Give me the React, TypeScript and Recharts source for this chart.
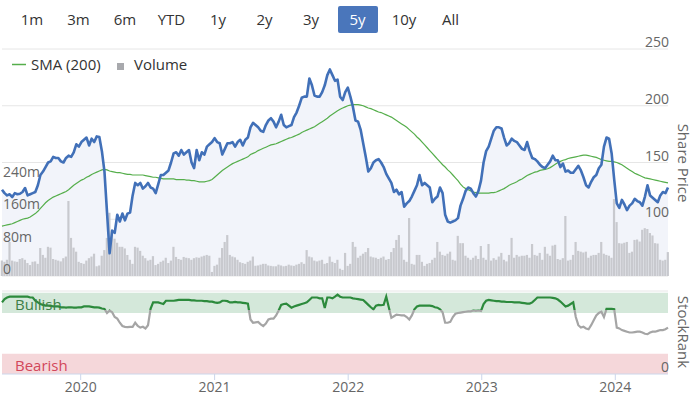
import React from 'react';
import {
  ComposedChart,
  LineChart,
  Line,
  Area,
  Bar,
  XAxis,
  YAxis,
  CartesianGrid,
  ReferenceArea,
  ReferenceLine,
} from 'recharts';

const START = Date.UTC(2019, 4, 31);
const WEEK = 7 * 24 * 3600 * 1000;

const rangeButtons = ['1m', '3m', '6m', 'YTD', '1y', '2y', '3y', '5y', '10y', 'All'];
const activeRange = '5y';
const priceTicks = [50, 100, 150, 200, 250];
const volumeTicks = [0, 80, 160, 240];
const rankTicks = [0];
const yearTicks = [2020, 2021, 2022, 2023, 2024];

const priceValues = [
  126, 123, 121, 122, 119.6, 123, 122, 122.5, 124, 127.5,
  121, 122, 123, 124, 130, 139, 142, 146, 150, 151,
  155, 154, 154, 151, 150, 154, 156, 155, 159, 166,
  164, 168, 170, 172, 165, 171, 168, 173, 172.5, 160,
  142, 106, 70, 90, 88, 104, 98, 105, 99, 105,
  106, 121, 132, 130, 132, 127, 129, 132, 128, 127,
  123, 131, 139, 139, 141, 143, 150, 158, 159, 156,
  161, 157, 159, 161, 150, 145, 161, 152, 159, 157,
  164, 166, 168, 171.5, 168, 167, 157, 162, 167, 167,
  168, 164, 168, 170, 165, 170, 172, 181, 185, 183,
  181, 178, 177, 183, 187, 189, 186, 181, 186, 192,
  183, 181, 182, 183, 190, 194, 200, 207, 208, 208,
  224, 218, 209, 208, 208, 212, 218, 227, 232, 227,
  222, 223, 208, 205, 212, 216, 208, 199, 187, 186,
  179, 167, 155, 142, 145, 150, 152, 153, 150, 146,
  140, 136, 132, 124, 126, 122, 124, 111, 114, 116,
  120, 125, 130, 139, 130, 132, 130, 128, 115, 118,
  120, 128, 123, 104, 98, 97, 98, 99, 101, 112,
  118, 125, 128, 127, 123, 120, 125, 134, 150, 160,
  164, 171, 178, 181, 181, 180, 172, 165, 167, 171,
  169, 168, 165, 162, 161, 168, 160, 154, 153, 151,
  148, 146, 145, 148, 151, 156, 152, 152, 146, 149,
  142, 143, 141, 141, 144, 147, 143, 137, 130, 128,
  133, 137, 139, 145, 148, 164, 172, 171, 158, 135,
  114, 110, 117, 113, 108, 112, 114, 118, 116, 115,
  112, 120, 130, 121, 119, 117, 115, 121, 124, 123, 128,
];

const smaValues = [
  94, 94.5, 95, 95.5, 96, 97, 98, 99, 100, 100.5,
  101, 102, 103.5, 105, 107, 109.5, 112, 114.5, 116.5, 118,
  119.5, 120.5, 121.5, 122.5, 123.5, 124.5, 126, 128, 130, 131.5,
  133, 134.5, 135.5, 137, 138, 139.5, 140.5, 141.5, 142.5, 143.5,
  144, 143.5, 142.5, 142, 141.5, 141, 141, 140.5, 140, 139.5,
  139.5, 139, 139, 139, 139, 139, 138.5, 138, 137.5, 137,
  137, 136.5, 136, 135.5, 135.5, 135.5, 135.5, 135.5, 135, 135,
  135, 135, 134.5, 134.5, 134, 134, 133.5, 133, 133, 133,
  133.5, 134, 135, 137, 139, 141, 143, 144.5, 146, 147.5,
  149, 150, 151, 152, 153, 154, 155, 157, 158, 159,
  160.5, 161.5, 162.5, 163.5, 164.5, 165.5, 166, 166.5, 167.5, 168.5,
  169.5, 170.5, 171.5, 172, 173, 174, 175, 176.5, 177.5, 178.5,
  179.5, 180.5, 181.5, 183, 184.5, 186, 187.5, 189, 191, 192.5,
  194, 195.5, 197, 198, 199, 200, 200.5, 201, 201, 201,
  200.5, 200, 199, 198, 197.5, 196.5, 195.5, 194.5, 194, 193,
  192, 191, 190, 188.5, 187, 185.5, 184, 182.5, 181, 179,
  177, 175, 172.5, 170.5, 168, 165.5, 163, 160.5, 158, 155.5,
  153, 150.5, 148, 146, 143.5, 141.5, 139, 136.5, 134, 131,
  128.5, 127, 126, 125, 124, 123.5, 123, 123, 123, 123,
  123, 123.5, 123.5, 124, 125, 126, 127, 128.5, 130, 131,
  132, 133, 134.5, 135.5, 137, 138.5, 139.5, 140.5, 141.5, 142,
  143, 143.5, 144, 144.5, 145.5, 147, 148.5, 150, 151, 152,
  152.5, 153.5, 154, 154.5, 155, 155.5, 156, 156.5, 156.5, 156,
  155.5, 155, 154.5, 153.5, 152.5, 152, 151.5, 151, 151, 150.5,
  150, 149, 148, 146.5, 145, 143.5, 142, 140.5, 139.5, 138.5,
  137.5, 136.5, 136, 135.5, 135, 134.5, 134, 133.5, 133, 132.5, 132,
];

// millions of shares
const volumeValues = [
  38, 35, 40, 84, 38, 36, 35, 42, 44, 40,
  32, 27, 35, 36, 30, 69, 52, 45, 72, 70,
  42, 40, 38, 36, 44, 48, 185, 94, 70, 60,
  35, 32, 30, 38, 44, 48, 55, 24, 26, 50,
  64, 94, 156, 109, 92, 82, 72, 72, 68, 52,
  40, 30, 72, 70, 62, 50, 44, 38, 40, 49,
  27, 30, 35, 38, 45, 32, 38, 72, 47, 42,
  40, 47, 45, 44, 40, 44, 46, 45, 48, 50,
  52, 50, 10, 25, 28, 45, 69, 84, 101, 52,
  48, 46, 40, 34, 32, 30, 35, 38, 48, 25,
  26, 28, 30, 30, 26, 25, 24, 24, 28, 26,
  24, 25, 28, 26, 25, 28, 30, 34, 30, 64,
  48, 46, 38, 36, 38, 40, 30, 32, 48, 35,
  32, 40, 18, 15, 57, 25, 30, 84, 72, 45,
  50, 55, 59, 69, 48, 46, 45, 42, 45, 48,
  40, 42, 59, 69, 89, 101, 70, 40, 35, 143,
  30, 28, 52, 52, 35, 25, 30, 32, 40, 45,
  84, 60, 52, 50, 55, 60, 40, 38, 99, 81,
  81, 50, 45, 40, 45, 50, 42, 74, 45, 40,
  79, 38, 44, 40, 48, 57, 40, 36, 52, 94,
  45, 52, 48, 50, 50, 52, 45, 79, 52, 50,
  57, 40, 72, 55, 50, 75, 77, 42, 40, 44,
  148, 38, 40, 52, 84, 62, 60, 58, 60, 45,
  50, 52, 52, 57, 84, 55, 52, 50, 45, 190,
  133, 81, 80, 82, 84, 57, 60, 89, 90, 85,
  114, 118, 116, 106, 100, 81, 80, 40, 38, 40, 59,
];

const stockRankValues = [
  88, 92, 94, 95, 95, 95, 95, 95, 95, 95,
  95, 94, 94, 90, 88, 86, 85, 84, 84, 84,
  83, 83, 83, 82, 82, 81.5, 82, 82, 81.5, 81.5,
  82, 82, 83, 83, 83, 82.5, 82, 82, 81.5, 80.5,
  80, 75, 78, 76, 70, 68, 63, 59, 58, 57.5,
  58, 58, 63, 59, 57, 58, 56, 60, 80, 88,
  88, 88, 87, 86, 90, 90, 90, 90, 90.5, 91,
  91, 91, 91, 91, 90.5, 90.5, 90, 90, 90, 89.5,
  89.5, 89, 89, 88, 87.5, 88, 90, 90, 89.5, 88,
  88, 88.5, 88, 88, 87.5, 87, 86.5, 67, 63, 63.5,
  64, 61, 59, 62, 67, 68, 68, 72, 78, 85,
  86, 86.5, 84, 81.5, 83, 84, 85, 86, 87, 88,
  91, 94, 94, 94, 93, 93, 81, 94, 94, 93,
  95, 97.5, 95, 94, 94, 94, 94, 93, 92.5, 92,
  91.5, 91, 88, 85, 82, 79.5, 84, 85, 84.5, 85,
  95, 82, 69, 71, 73, 72.5, 72, 72, 70, 67,
  72, 79.5, 83, 84, 84, 84, 84, 84, 83.5, 82,
  81.5, 79.5, 76, 63, 63, 64, 70, 74, 75, 75.5,
  76, 76.5, 77, 77, 78, 77.5, 78, 77.5, 86, 90,
  91, 90.5, 90, 89.5, 89.5, 89, 89, 88.5, 88.5, 88.5,
  88, 88, 88, 87.5, 87, 86.5, 86.5, 88, 91, 94,
  94, 94, 94, 94, 94, 93.5, 93, 91.5, 89, 86,
  83, 84, 86, 88, 70, 60, 57, 58, 56, 55,
  60, 66, 72, 75, 76.5, 70, 80, 80, 80, 79.5,
  57, 56, 54, 53, 52, 51, 51, 51.5, 52, 52,
  51, 49.5, 49, 51, 52, 52, 53, 54, 54, 55, 57,
];

const data = priceValues.map((p, i) => ({
  t: START + i * WEEK,
  price: p,
  sma: smaValues[i],
  volume: volumeValues[i],
  rank: stockRankValues[i],
}));

const X_DOMAIN: [number, number] = [data[0].t, data[data.length - 1].t];
const yearTickTimes = yearTicks.map((y) => Date.UTC(y, 0, 1));

const FONT = '"Open Sans", "Noto Sans", sans-serif';
const AXIS_COLOR = '#666666';

// bottom panel geometry
const RANK_TOP = 11;
const RANK_BOTTOM = 94;
const RANK_MAX = 102;
const RANK_THRESHOLD = 79;
const rankCut = (RANK_MAX - RANK_THRESHOLD) / RANK_MAX;

const PriceTick = (props: any) => {
  const { y, payload } = props;
  return (
    <text x={669} y={y - 2} textAnchor="end" fill={AXIS_COLOR} fontSize={14} fontFamily={FONT}>
      {payload.value}
    </text>
  );
};

const volumeLabel = (v: number) => (props: any) => {
  const vb = props.viewBox || {};
  return (
    <text x={3} y={(vb.y ?? 0) - 2} textAnchor="start" fill={AXIS_COLOR} fontSize={14} fontFamily={FONT}>
      {v === 0 ? '0' : `${v}m`}
    </text>
  );
};

export default function App() {
  return (
    <div
      style={{
        position: 'absolute',
        left: 0,
        top: 0,
        width: 697,
        height: 397,
        background: '#ffffff',
        fontFamily: FONT,
        overflow: 'hidden',
      }}
    >
      {/* range selector */}
      {rangeButtons.map((label, i) => {
        const active = label === activeRange;
        return (
          <div
            key={label}
            style={{
              position: 'absolute',
              left: 12 + i * 46.5,
              top: 6,
              width: 40,
              height: 27,
              lineHeight: '27px',
              textAlign: 'center',
              fontSize: 15,
              color: active ? '#ffffff' : '#333333',
              background: active ? '#4a76bb' : 'transparent',
              borderRadius: 2,
            }}
          >
            {label}
          </div>
        );
      })}

      <div style={{ position: 'absolute', left: 0, top: 0 }}>
        <ComposedChart width={697} height={280} data={data} margin={{ top: 49, right: 0, bottom: 4, left: 2 }}>
          <CartesianGrid yAxisId="price" vertical={false} stroke="#e6e6e6" />
          <XAxis dataKey="t" type="number" domain={X_DOMAIN} hide />
          <YAxis
            yAxisId="price"
            orientation="right"
            width={29}
            domain={[50, 250]}
            ticks={priceTicks}
            axisLine={false}
            tickLine={false}
            tick={PriceTick}
          />
          <YAxis yAxisId="vol" orientation="left" domain={[0, 560]} hide />
          <Area
            yAxisId="price"
            dataKey="price"
            type="linear"
            stroke="none"
            fill="#f2f4fa"
            fillOpacity={1}
            isAnimationActive={false}
          />
          <Bar yAxisId="vol" dataKey="volume" fill="#c8c9ce" barSize={2.2} isAnimationActive={false} />
          {volumeTicks.map((v) => (
            <ReferenceLine
              key={`vl-${v}`}
              yAxisId="vol"
              y={v}
              stroke="none"
              ifOverflow="visible"
              label={volumeLabel(v)}
            />
          ))}
          <Line
            yAxisId="price"
            dataKey="sma"
            type="linear"
            stroke="#55ae4b"
            strokeWidth={1.2}
            dot={false}
            isAnimationActive={false}
          />
          <Line
            yAxisId="price"
            dataKey="price"
            type="linear"
            stroke="#4170b8"
            strokeWidth={2.6}
            dot={false}
            strokeLinejoin="round"
            isAnimationActive={false}
          />
        </ComposedChart>
      </div>

      <div style={{ position: 'absolute', left: 0, top: 280 }}>
        <LineChart width={697} height={117} data={data} margin={{ top: RANK_TOP, right: 0, bottom: 0, left: 2 }}>
          <defs>
            <linearGradient id="rankGrad" gradientUnits="userSpaceOnUse" x1="0" y1={RANK_TOP} x2="0" y2={RANK_BOTTOM}>
              <stop offset={0} stopColor="#2c8a3c" />
              <stop offset={rankCut} stopColor="#2c8a3c" />
              <stop offset={rankCut} stopColor="#a5a5a5" />
              <stop offset={1} stopColor="#a5a5a5" />
            </linearGradient>
          </defs>
          <XAxis
            dataKey="t"
            type="number"
            domain={X_DOMAIN}
            ticks={yearTickTimes}
            tickFormatter={(v: number) => String(new Date(v).getUTCFullYear())}
            height={23}
            tickSize={6}
            tickMargin={2}
            axisLine={{ stroke: '#ccd6eb' }}
            tickLine={{ stroke: '#ccd6eb' }}
            tick={{ fill: AXIS_COLOR, fontSize: 14, fontFamily: FONT }}
          />
          <YAxis
            orientation="right"
            width={29}
            domain={[0, RANK_MAX]}
            ticks={rankTicks}
            axisLine={false}
            tickLine={false}
            tick={PriceTick}
          />
          <ReferenceLine y={RANK_MAX} stroke="#e6e6e6" />
          <ReferenceArea
            y1={75}
            y2={100}
            fill="#d4e8da"
            fillOpacity={1}
            stroke="none"
            label={{ value: 'Bullish', position: 'insideLeft', offset: 13, dy: 2, fill: '#3e7f47', fontSize: 15, fontFamily: FONT }}
          />
          <ReferenceArea
            y1={0}
            y2={25}
            fill="#f5d7da"
            fillOpacity={1}
            stroke="none"
            label={{ value: 'Bearish', position: 'insideLeft', offset: 13, dy: 2, fill: '#d2475a', fontSize: 15, fontFamily: FONT }}
          />
          <Line
            dataKey="rank"
            type="linear"
            stroke="url(#rankGrad)"
            strokeWidth={2.2}
            dot={false}
            isAnimationActive={false}
          />
        </LineChart>
      </div>

      <svg
        width={697}
        height={397}
        style={{ position: 'absolute', left: 0, top: 0, pointerEvents: 'none' }}
        fontFamily={FONT}
      >
        <line x1={12} x2={26} y1={64.5} y2={64.5} stroke="#55ae4b" strokeWidth={1.5} />
        <text x={31} y={69.5} fontSize={15} fill="#333333">SMA (200)</text>
        <rect x={117} y={63} width={7} height={7} fill="#a8a9ad" />
        <text x={134} y={69.5} fontSize={15} fill="#333333">Volume</text>
        <text transform="translate(678,163) rotate(90)" textAnchor="middle" fontSize={15} fill={AXIS_COLOR}>
          Share Price
        </text>
        <text transform="translate(678,332) rotate(90)" textAnchor="middle" fontSize={15} fill={AXIS_COLOR}>
          StockRank
        </text>
      </svg>
    </div>
  );
}
